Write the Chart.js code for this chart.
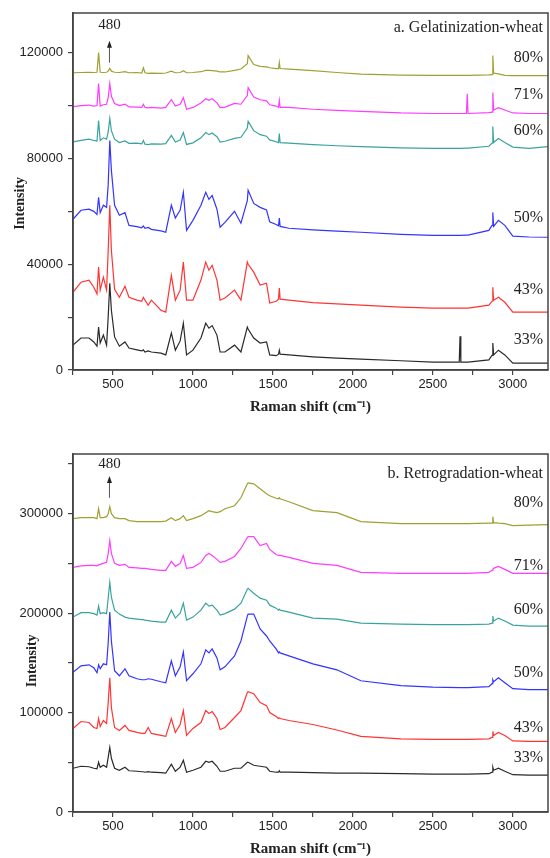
<!DOCTYPE html>
<html>
<head>
<meta charset="utf-8">
<script src="https://cdn.jsdelivr.net/npm/chart.js@4.4.1/dist/chart.umd.min.js"></script>
<style>
  body { margin: 0; background: #fff; }
  canvas { position: absolute; left: 0; }
</style>
</head>
<body>
<canvas id="gelChart" width="550" height="420" style="top:0"></canvas>
<canvas id="retroChart" width="550" height="438" style="top:420px"></canvas>
<script>
// Raman shift (cm-1) sample positions, shared by every spectrum
const shift = [250,300,350,380,400,410,420,440,460,470,
  480,490,510,540,575,600,650,680,690,700,
  720,740,800,830,865,890,920,940,960,1000,
  1050,1080,1100,1120,1150,1170,1200,1260,1300,1340,
  1345,1380,1420,1460,1480,1520,1535,1540,1545,1600,
  1750,1900,2050,2300,2500,2665,2670,2675,2710,2715,
  2720,2850,2870,2875,2880,2910,2950,3000,3100,3220];

const moisture = ['80%', '71%', '60%', '50%', '43%', '33%'];
const colors = ['#a0a034', '#ff3cff', '#3aa39d', '#3434ff', '#ff3434', '#2a2a2a'];

// tick positions (labels only on every other one)
const xTicks = [250, 500, 750, 1000, 1250, 1500, 1750, 2000, 2250, 2500, 2750, 3000];
const xLabels = [500, 1000, 1500, 2000, 2500, 3000];
const gelYTicks = [0, 20000, 40000, 60000, 80000, 100000, 120000];
const gelYLabels = [0, 40000, 80000, 120000];
const retroYTicks = [0, 50000, 100000, 150000, 200000, 250000, 300000, 350000];
const retroYLabels = [0, 100000, 200000, 300000];

// a. Gelatinization-wheat
const gel80 = [112400,112500,112600,112500,112600,120000,112600,112500,112600,113000,
  114000,113000,112600,112500,112800,112400,112500,112300,114300,112400,
  112200,112300,112200,112300,113000,112400,112500,113200,112400,112500,
  112800,113300,113300,113200,113000,112700,112700,113300,113800,115800,
  118900,115500,114800,114600,114300,114000,114000,116300,114000,113800,
  113200,112500,111900,111500,111400,111400,111400,111400,111400,111400,
  111400,111600,111700,118900,112300,112000,111400,111300,111300,111300];
const gel71 = [99600,100000,100200,99800,100000,108300,99800,100300,100500,103000,
  108300,103500,100800,100000,100500,99500,99400,99300,100500,99300,
  99100,99300,99000,99300,102300,99800,100500,103000,98600,99300,
  101000,102600,102000,102600,101000,99200,99400,100800,100500,103800,
  106800,103200,102200,101800,100300,99800,99300,101900,99300,99300,
  98600,98200,97800,97200,97000,97000,97000,97000,97000,104500,
  97000,97300,97500,104900,98300,99200,98300,97200,97000,97000];
const gel60 = [86300,86800,87300,86800,86600,94300,86800,87800,87300,90000,
  95100,90500,87300,86000,86600,85700,85800,85500,86800,85400,
  85200,85500,85400,85600,88700,86200,87000,89800,85300,85900,
  87800,89800,89000,89600,88200,86200,86500,87600,88000,91500,
  94000,90500,89000,88400,87000,86300,86000,89400,86000,85800,
  85200,84800,84500,84000,83800,83800,83800,83800,83900,83900,
  83900,84600,85800,92100,86000,87500,86000,84300,83800,84500];
const gel50 = [57000,60400,60800,60000,58800,65300,59500,62300,61500,70000,
  86800,75500,62300,58500,59500,54700,54200,53800,54500,53600,
  53900,53200,52600,52100,62300,57500,60500,67200,52800,56600,
  62300,67200,64500,66000,60800,54000,55800,60000,55500,64000,
  68000,63000,61500,60500,56000,55000,54500,57500,54300,53600,
  53000,52500,52100,51300,50900,50900,50900,50900,51000,51000,
  51000,52800,54700,59600,54300,56600,54700,50600,50300,50200];
const gel43 = [29400,33200,34000,31300,28800,38900,30200,35100,30200,45000,
  62300,45300,30500,27500,31700,27500,26400,26000,27500,26400,
  24500,26400,22600,21900,35800,26400,30200,40800,26400,26400,
  34000,40800,37700,39600,34000,26400,27200,30200,26400,40800,
  40000,37000,32100,32800,25300,26000,26800,31000,26800,26400,
  25500,25000,24500,23800,23400,23400,23400,23400,23400,23400,
  23400,24500,26000,31300,26400,27500,25600,21900,21900,21900];
const gel33 = [9400,12100,12100,10600,9000,16200,10200,13200,9400,20000,
  32800,22600,12500,9000,10600,8300,7600,7200,7600,6800,
  7200,6800,6400,5700,14000,7500,11000,17700,5700,7500,
  12100,17700,15800,16800,13200,6800,6800,9400,6800,16200,
  15500,12100,10200,10600,5700,5400,6000,7500,6000,5700,
  5000,4500,4100,3500,3000,3000,12800,3000,3000,3000,
  3000,3800,5500,10200,5700,7500,5700,2600,2600,2600];

// b. Retrogradation-wheat
const retro80 = [295000,296000,296000,296000,295000,305000,296000,296000,297000,300000,
  307000,300000,296000,295000,295000,293000,292000,292000,292000,292000,
  292000,292000,292000,292500,296000,293000,295000,298000,293000,295000,
  298000,301000,303000,302000,301000,302000,305000,308000,316000,330000,
  331000,330000,325000,320000,318000,315500,315000,316000,315000,312000,
  303000,301000,292000,290000,290000,290000,290000,290000,290000,290000,
  290000,290500,290500,297000,291000,290500,290000,288000,288500,289000];
const retro71 = [246000,247500,248000,248000,247500,248500,249000,250000,251000,260000,
  273000,260000,250000,248000,249000,246000,245500,245000,245000,245000,
  244500,244000,243000,243000,252000,247000,250000,258000,245000,246000,
  251000,258000,260000,258000,254000,251000,252000,257000,265000,276000,
  277000,277000,268000,270000,264000,259000,258000,258000,258000,256000,
  250000,248000,241000,240000,240000,240000,240000,240000,240000,240000,
  240000,241000,243000,244000,245000,247000,244000,240000,240000,240000];
const retro60 = [196000,200500,200500,199500,198000,207000,199500,200500,199500,215000,
  231000,216000,203000,199000,196000,195000,194000,193500,193500,193000,
  192500,192000,191000,191000,203000,195000,200000,210000,193000,196000,
  203000,210000,207000,208000,203000,198000,199500,204000,210000,224000,
  225000,220000,215000,213000,208000,205000,203000,204000,203000,201000,
  195000,194000,190000,189000,188500,188500,188500,188500,188500,188500,
  188500,189000,190000,197000,192000,195000,192000,188000,187000,187000];
const retro50 = [140500,147000,148000,145000,140000,148000,144000,149000,148000,170000,
  201000,172000,142000,137000,144000,137000,134000,133000,133000,133000,
  134000,133500,131000,130000,152000,137000,146000,161000,132000,139000,
  149000,163000,160000,164000,155000,143000,146000,157000,172000,197000,
  199000,199000,184000,177000,172000,164000,160000,161000,160000,157000,
  149000,143000,132000,127000,125500,125000,125000,125000,125000,125000,
  125000,126000,129000,133000,131000,135000,130000,124000,123000,123000];
const retro43 = [84000,91000,90000,85000,84000,94000,86000,92000,89000,110000,
  135000,105000,85000,82000,87000,82000,80000,79000,79000,79000,
  85000,79000,77000,76000,94000,80000,88000,102000,77000,84000,
  90000,102000,99000,101000,94000,83000,85000,95000,102000,120000,
  121000,119000,110000,107000,100000,96000,94000,94500,94000,92000,
  88000,82500,76000,73500,73000,73000,73000,73000,73000,73000,
  73000,73500,75000,81000,77000,80000,77000,71500,71000,71000];
const retro33 = [44000,46000,45500,44000,43500,50000,45000,47000,45000,55000,
  65000,54000,44000,42000,45000,41500,41000,40500,40500,40000,
  40500,40000,39500,39000,48000,41000,45000,52000,40000,42000,
  45000,51000,50000,51000,46000,41000,41000,44000,44000,50000,
  50000,47000,46000,45000,41000,40000,40000,41500,40000,40000,
  39500,39000,39000,38500,38000,38000,38000,38000,38000,38000,
  38000,38500,40000,45000,42000,44000,41000,37500,37000,37000];

// where the percentage labels, panel titles and 480 markers sit (in data units)
const gelLabelY = [118100, 104200, 90600, 57700, 30200, 11300];
const retroLabelY = [311000, 248000, 203000, 140000, 85000, 55000];
const peakShift = 478;

const serif = '"Liberation Serif", "Times New Roman", serif';
const sans = '"Liberation Sans", Arial, sans-serif';

const decorPlugin = {
  id: 'decor',
  afterDatasetsDraw(chart, args, opts) {
    const { ctx, chartArea: a, scales: { x, y } } = chart;
    ctx.save();
    ctx.strokeStyle = '#444';
    ctx.lineWidth = 1.5;
    ctx.strokeRect(a.left, a.top, a.right - a.left, a.bottom - a.top);

    ctx.fillStyle = '#222';
    ctx.textAlign = 'right';
    ctx.textBaseline = 'middle';
    ctx.font = '16px ' + serif;
    ctx.fillText(opts.title, a.right - 5, y.getPixelForValue(opts.titleY));
    opts.labelY.forEach((v, i) => ctx.fillText(moisture[i], a.right - 5, y.getPixelForValue(v)));

    // y axis title, sits a little below the middle in the original
    ctx.save();
    ctx.translate(opts.yTitleX, y.getPixelForValue(opts.yTitleAt));
    ctx.rotate(-Math.PI / 2);
    ctx.textAlign = 'center';
    ctx.font = 'bold 14px ' + serif;
    ctx.fillText('Intensity', 0, 0);
    ctx.restore();

    const px = x.getPixelForValue(peakShift);
    ctx.textAlign = 'center';
    ctx.font = '15px ' + serif;
    ctx.fillText('480', px, y.getPixelForValue(opts.markY[2]));
    const y0 = y.getPixelForValue(opts.markY[0]);
    const y1 = y.getPixelForValue(opts.markY[1]);
    ctx.strokeStyle = '#555';
    ctx.lineWidth = 1;
    ctx.beginPath(); ctx.moveTo(px, y0); ctx.lineTo(px, y1 + 5); ctx.stroke();
    ctx.fillStyle = '#222';
    ctx.beginPath(); ctx.moveTo(px, y1); ctx.lineTo(px - 2.5, y1 + 7); ctx.lineTo(px + 2.5, y1 + 7); ctx.closePath(); ctx.fill();
    ctx.restore();
  }
};

function makeChart(id, series, cfg) {
  return new Chart(document.getElementById(id), {
    type: 'line',
    data: {
      datasets: series.map((vals, i) => ({
        label: moisture[i],
        data: shift.map((s, j) => ({ x: s, y: vals[j] })),
        borderColor: colors[i],
        borderWidth: 1.2,
        pointRadius: 0,
        tension: 0
      }))
    },
    options: {
      responsive: false,
      animation: false,
      layout: { padding: { top: cfg.top, right: 2, left: 0, bottom: 0 } },
      plugins: {
        legend: { display: false },
        tooltip: { enabled: false },
        decor: cfg.decor
      },
      scales: {
        x: {
          type: 'linear',
          min: 250,
          max: 3220,
          afterBuildTicks: s => { s.ticks = xTicks.map(v => ({ value: v })); },
          afterFit: s => { s.height = cfg.xHeight; },
          ticks: {
            autoSkip: false,
            maxRotation: 0,
            padding: 2,
            color: '#222',
            font: { family: sans, size: 13 },
            callback: v => (xLabels.includes(v) ? String(v) : '')
          },
          grid: { drawOnChartArea: false, tickLength: 5, color: '#444', lineWidth: 1.2 },
          border: { color: '#444', width: 1.5 },
          title: {
            display: true,
            text: 'Raman shift (cm⁻¹)',
            color: '#222',
            font: { family: serif, size: 15, weight: 'bold' },
            padding: { top: 0, bottom: cfg.xTitlePad }
          }
        },
        y: {
          min: 0,
          max: cfg.yMax,
          afterBuildTicks: s => { s.ticks = cfg.yTicks.map(v => ({ value: v })); },
          afterFit: s => { s.width = 73; },
          ticks: {
            autoSkip: false,
            padding: 5,
            color: '#222',
            font: { family: sans, size: 13 },
            callback: v => (cfg.yLabels.includes(v) ? String(v) : '')
          },
          grid: { drawOnChartArea: false, tickLength: 5, color: '#444', lineWidth: 1.2 },
          border: { color: '#444', width: 1.5 },
          title: { display: false }
        }
      }
    },
    plugins: [decorPlugin]
  });
}

makeChart('gelChart', [gel80, gel71, gel60, gel50, gel43, gel33], {
  top: 13, xHeight: 50, xTitlePad: 4,
  yMax: 135000, yTicks: gelYTicks, yLabels: gelYLabels,
  decor: { title: 'a. Gelatinization-wheat', titleY: 129400, labelY: gelLabelY,
           markY: [116200, 124500, 130600], yTitleX: 20, yTitleAt: 63000 }
});

makeChart('retroChart', [retro80, retro71, retro60, retro50, retro43, retro33], {
  top: 34, xHeight: 46, xTitlePad: 0,
  yMax: 360000, yTicks: retroYTicks, yLabels: retroYLabels,
  decor: { title: 'b. Retrogradation-wheat', titleY: 340000, labelY: retroLabelY,
           markY: [316000, 338000, 350000], yTitleX: 32, yTitleAt: 152000 }
});
</script>
</body>
</html>
